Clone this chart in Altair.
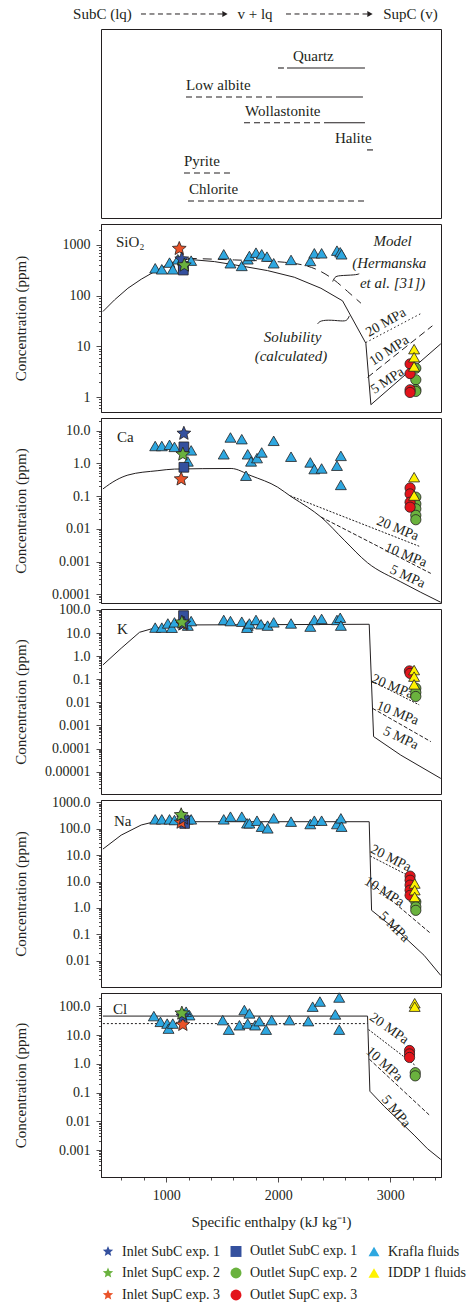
import math
import altair as alt
import pandas as pd

FONT = "Liberation Serif"
INK = "#231f20"
E_DOMAIN = [418, 3454]
PANEL_W = 340
YTITLE = "Concentration (ppm)"

# ---------------- top box (mineral stability) ----------------
HEADER_TEXT = ["SubC (lq)", "v + lq", "SupC (v)"]
HEADER_E = [431, 1793, 3181]
ARROW_START_E = [775, 2070]
ARROW_END_E = [1525, 2820]
HEADER_ROW = -1.03
ROW_DOMAIN = [-0.466, 6.639]

MINERALS = ["Quartz", "Low albite", "Wollastonite", "Halite", "Pyrite", "Chlorite"]
MINERAL_ROW = [1.0, 2.09, 3.06, 4.08, 4.95, 6.0]
MINERAL_LABEL_E = [2132, 1177, 1704, 2507, 1159, 1204]
METASTABLE_FROM = [1998, 1177, 1695, None, 1159, 1195]
METASTABLE_TO = [2070, 1998, 2454, None, 1605, 2802]
STABLE_FROM = [2079, 1998, 2454, 2793, None, None]
STABLE_TO = [2775, 2757, 2775, 2847, None, None]

# ---------------- legend / samples ----------------
STAR = ("M0,-1L0.265,-0.364L0.951,-0.309L0.428,0.139L0.588,0.809L0,0.45"
        "L-0.588,0.809L-0.428,0.139L-0.951,-0.309L-0.265,-0.364Z")
SAMPLES = ["Inlet SubC exp. 1", "Outlet SubC exp. 1", "Krafla fluids",
           "Inlet SupC exp. 2", "Outlet SupC exp. 2", "IDDP 1 fluids",
           "Inlet SupC exp. 3", "Outlet SupC exp. 3"]
SAMPLE_FILL = ["#34509e", "#34509e", "#2ea7e0", "#6ab23e", "#6ab23e",
               "#fff200", "#ea5329", "#e3141b"]
SAMPLE_SHAPE = [STAR, "square", "triangle-up", STAR, "circle",
                "triangle-up", STAR, "circle"]
SAMPLE_SIZE = [210, 95, 120, 210, 105, 120, 210, 105]
DRAW_ORDER = ["Krafla fluids", "Outlet SubC exp. 1", "Inlet SupC exp. 3",
              "Inlet SubC exp. 1", "Inlet SupC exp. 2", "Outlet SupC exp. 2",
              "Outlet SupC exp. 3", "IDDP 1 fluids"]

MPA_TEXT = ["20 MPa", "10 MPa", "5 MPa"]

# ---------------- SiO2 ----------------
SIO2_DOMAIN = [0.506, 2594]
SIO2_TICKS = [1, 10, 100, 1000]
SIO2_TICK_LABELS = ["1", "10", "100", "1000"]
SIO2_SOL_E = [435, 539, 658, 777, 896, 1045, 1193, 1431, 1669, 1906, 2144, 2382, 2575, 2783, 2828, 3452]
SIO2_SOL_C = [48.6, 82.6, 140, 211, 298, 449, 522, 470, 386, 312, 231, 140, 79, 11.5, 0.705, 11.2]
SIO2_MODEL_E = [1193, 1609, 2055, 2352, 2500, 2620, 2739]
SIO2_MODEL_C = [545, 507, 456, 322, 204, 121, 71]
SIO2_20_E = [2783, 3280]
SIO2_20_C = [11.9, 45]
SIO2_10_E = [2798, 3377]
SIO2_10_C = [2.44, 25.4]
SIO2_MPA_E = [2962, 2991, 2976]
SIO2_MPA_C = [29.5, 8.2, 2.1]
SIO2_MPA_ANGLE = [330, 327, 326]
SIO2_NOTE_TEXT = ["Model", "(Hermanska", "et al. [31])", "Solubility", "(calculated)"]
SIO2_NOTE_E = [3022, 2992, 3022, 2129, 2114]
SIO2_NOTE_C = [1200, 448, 180, 15.6, 6.3]
SIO2_LEAD1_E = [2487, 2505, 2540, 2690, 2724]
SIO2_LEAD1_C = [190, 235, 250, 255, 270]
SIO2_LEAD2_E = [2352, 2376, 2471, 2590, 2620, 2635]
SIO2_LEAD2_C = [27.8, 32.3, 33.3, 30.9, 33.3, 39.9]
SIO2_NAME_E, SIO2_NAME_C = [552], [1161]
SIO2_KRAFLA_E = [902, 961, 1030, 1059, 1104, 1223, 1514, 1574, 1675, 1728, 1743, 1802, 1853, 1900, 1960, 2115, 2287, 2323, 2388, 2525, 2554, 2566]
SIO2_KRAFLA_C = [347, 331, 449, 331, 522, 491, 655, 436, 386, 522, 607, 706, 655, 589, 436, 507, 484, 685, 685, 773, 717, 655]
SIO2_OUT1_E, SIO2_OUT1_C = [1153, 1153], [380, 320]
SIO2_IN1_E, SIO2_IN1_C = [1139], [522]
SIO2_IN2_E, SIO2_IN2_C = [1162], [398]
SIO2_IN3_E, SIO2_IN3_C = [1117], [845]
SIO2_OUT2_E, SIO2_OUT2_C = [3229, 3229, 3229, 3229], [3.7, 2.19, 1.39, 1.29]
SIO2_OUT3_E, SIO2_OUT3_C = [3178, 3178, 3178, 3178], [4.5, 2.9, 1.39, 1.23]
SIO2_IDDP_E, SIO2_IDDP_C = [3214, 3214, 3214], [8.8, 6.1, 4.0]

# ---------------- Ca ----------------
CA_DOMAIN = [5.42e-5, 24.4]
CA_TICKS = [10, 1, 0.1, 0.01, 0.001, 0.0001]
CA_TICK_LABELS = ["10.0", "1.0", "0.1", "0.01", "0.001", "0.0001"]
CA_SOL_E = [435, 554, 658, 926, 1074, 1580, 1758, 1996, 2115, 2263, 2382, 2590, 2798, 3095, 3452]
CA_SOL_C = [0.166, 0.31, 0.44, 0.6, 0.67, 0.70, 0.42, 0.187, 0.097, 0.046, 0.023, 0.0045, 0.00092, 0.00024, 5.7e-5]
CA_20_E, CA_20_C = [2109, 3259], [0.102, 0.00294]
CA_10_E, CA_10_C = [2382, 3363], [0.023, 0.000435]
CA_MPA_E = [3066, 3140, 3155]
CA_MPA_C = [0.0101, 0.00157, 0.000344]
CA_MPA_ANGLE = [22, 22, 25]
CA_NAME_E, CA_NAME_C = [561], [6.56]
CA_KRAFLA_E = [902, 961, 1030, 1074, 1193, 1223, 1514, 1574, 1675, 1713, 1728, 1758, 1811, 1853, 1960, 2115, 2287, 2323, 2388, 2525, 2560, 2560]
CA_KRAFLA_C = [3.4, 3.4, 3.7, 3.2, 1.15, 2.5, 1.9, 6.2, 5.5, 0.42, 1.9, 1.15, 1.45, 2.16, 4.9, 1.6, 1.07, 0.67, 0.70, 0.85, 1.7, 0.22]
CA_OUT1_E, CA_OUT1_C = [1158, 1158], [3.2, 0.76]
CA_IN1_E, CA_IN1_C = [1158], [8.2]
CA_IN2_E, CA_IN2_C = [1149], [1.9]
CA_IN3_E, CA_IN3_C = [1134], [0.33]
CA_OUT2_E, CA_OUT2_C = [3229] * 5, [0.093, 0.058, 0.041, 0.026, 0.019]
CA_OUT3_E, CA_OUT3_C = [3178] * 4, [0.178, 0.117, 0.065, 0.046]
CA_IDDP_E, CA_IDDP_C = [3214, 3214], [0.38, 0.104]

# ---------------- K ----------------
K_DOMAIN = [1.08e-6, 110]
K_TICKS = [100, 10, 1, 0.1, 0.01, 0.001, 0.0001, 0.00001]
K_TICK_LABELS = ["100.0", "10.0", "1.0", "0.1", "0.01", "0.001", "0.0001", "0.00001"]
K_SOL_E = [435, 598, 762, 866, 1134, 2813, 2852, 3095, 3452]
K_SOL_C = [0.416, 2.19, 10.8, 15.1, 22.4, 24.0, 3.3e-4, 5.2e-5, 5.1e-6]
K_20_E, K_20_C = [2834, 3259], [0.085, 0.0078]
K_10_E, K_10_C = [2843, 3363], [0.0055, 0.0002]
K_MPA_E = [3021, 3066, 3095]
K_MPA_C = [0.048, 0.0034, 0.00028]
K_MPA_ANGLE = [22, 22, 25]
K_NAME_E, K_NAME_C = [561], [15]
K_KRAFLA_E = [902, 961, 1015, 1051, 1074, 1193, 1223, 1514, 1574, 1675, 1728, 1722, 1743, 1802, 1847, 1906, 1960, 2115, 2287, 2323, 2388, 2525, 2554, 2560]
K_KRAFLA_C = [17.2, 17.2, 26, 17, 29, 21, 33, 37, 33, 31, 21, 17, 26, 37, 24, 21, 29, 26, 19, 37, 41, 37, 46, 21]
K_OUT1_E, K_OUT1_C = [1155], [57]
K_IN1_E, K_IN1_C = [1158], [26]
K_IN2_E, K_IN2_C = [1140], [29]
K_IN3_E, K_IN3_C = [1149], [24]
K_OUT2_E, K_OUT2_C = [3229] * 3, [0.041, 0.027, 0.018]
K_OUT3_E, K_OUT3_C = [3172, 3178], [0.23, 0.18]
K_IDDP_E, K_IDDP_C = [3214] * 3, [0.25, 0.13, 0.06]

# ---------------- Na ----------------
NA_DOMAIN = [1.01e-4, 1222]
NA_TICKS = [1000, 100, 10, 1, 0.1, 0.01, 0.001]
NA_TICK_LABELS = ["1000.0", "100.0", "10.0", "10.0", "1.0", "0.1", "0.01"]
NA_SOL_E = [435, 598, 777, 896, 2813, 2834, 3095, 3303, 3452]
NA_SOL_C = [16.9, 57, 138, 184, 184, 0.081, 0.0106, 0.0016, 0.000277]
NA_20_E, NA_20_C = [2822, 3214], [9.2, 1.3]
NA_10_E, NA_10_C = [2834, 3363], [0.84, 0.0107]
NA_MPA_E = [3006, 2947, 3036]
NA_MPA_C = [7.5, 0.405, 0.019]
NA_MPA_ANGLE = [27, 32, 45]
NA_NAME_E, NA_NAME_C = [534], [201]
NA_KRAFLA_E = [902, 961, 1030, 1074, 1193, 1223, 1514, 1574, 1675, 1722, 1743, 1811, 1853, 1906, 1960, 2115, 2287, 2323, 2388, 2525, 2560, 2566]
NA_KRAFLA_C = [226, 226, 226, 213, 226, 226, 226, 286, 286, 160, 160, 201, 119, 103, 247, 185, 150, 201, 201, 150, 247, 119]
NA_OUT1_E, NA_OUT1_C = [1165], [158]
NA_IN1_E, NA_IN1_C = [1155], [247]
NA_IN2_E, NA_IN2_C = [1134], [330]
NA_IN3_E, NA_IN3_C = [1134], [173]
NA_OUT2_E, NA_OUT2_C = [3229] * 3, [0.17, 0.11, 0.081]
NA_OUT3_E, NA_OUT3_C = [3178] * 5, [1.6, 1.12, 0.73, 0.47, 0.30]
NA_IDDP_E, NA_IDDP_C = [3219] * 3, [0.84, 0.47, 0.26]

# ---------------- Cl ----------------
CL_DOMAIN = [1.15e-4, 290]
CL_TICKS = [100, 10, 1, 0.1, 0.01, 0.001]
CL_TICK_LABELS = ["100.0", "10.0", "1.0", "0.1", "0.01", "0.001"]
CL_SOL_E = [435, 2798, 2819, 2947, 3214, 3333, 3452]
CL_SOL_C = [45.6, 45.6, 0.111, 0.033, 0.0033, 0.00111, 0.00047]
CL_DOT_E, CL_DOT_C = [435, 2798], [25, 25]
CL_20_E, CL_20_C = [2807, 3229], [15.5, 0.85]
CL_10_E, CL_10_C = [2813, 3348], [1.46, 0.0167]
CL_MPA_E = [2991, 2947, 3051]
CL_MPA_C = [16.8, 0.97, 0.022]
CL_MPA_ANGLE = [35, 42, 50]
CL_NAME_E, CL_NAME_C = [525], [80.5]
CL_KRAFLA_E = [890, 949, 1009, 1021, 1059, 1208, 1178, 1505, 1559, 1654, 1698, 1728, 1743, 1794, 1832, 1892, 1942, 2100, 2269, 2308, 2373, 2510, 2545, 2545]
CL_KRAFLA_C = [45.6, 28.8, 25, 16.7, 25, 49, 65, 33, 15.4, 21.9, 74, 25, 56.6, 21.9, 30.4, 15.4, 33, 33, 30.4, 97, 146, 52, 202, 15.4]
CL_IN1_E, CL_IN1_C = [1149], [45]
CL_IN2_E, CL_IN2_C = [1140], [57]
CL_IN3_E, CL_IN3_C = [1149], [23]
CL_OUT2_E, CL_OUT2_C = [3224, 3224], [0.49, 0.38]
CL_OUT3_E, CL_OUT3_C = [3173] * 3, [2.9, 2.2, 1.66]
CL_IDDP_E, CL_IDDP_C = [3219, 3219], [128, 97]

# ======================================================================
x_scale = alt.Scale(domain=E_DOMAIN, nice=False, zero=False)


def xy_df(E, C, **extra):
    d = pd.DataFrame({"E": E, "C": C})
    d["i"] = range(len(d))
    for k, v in extra.items():
        d[k] = v
    return d


def log_axis(lo, hi, ticks, labels):
    vals = []
    for k in range(math.floor(math.log10(lo)), math.ceil(math.log10(hi)) + 1):
        for m in range(1, 10):
            v = float(f"{m}e{k}")
            if lo <= v <= hi:
                vals.append(v)
    expr = "''"
    for v, lab in zip(ticks, labels):
        expr = f"abs(datum.value - {float(v)!r}) < {float(v) * 1e-6!r} ? '{lab}' : ({expr})"
    major = "abs(log(datum.value)/LN10 - round(log(datum.value)/LN10)) < 0.01"
    return alt.Axis(values=vals, labelExpr=expr,
                    tickSize={"condition": {"test": major, "value": 5}, "value": 2.5},
                    labelFont=FONT, labelFontSize=14, labelColor=INK, labelPadding=6,
                    labelOverlap=False, labelFlush=False, labelBaseline="middle",
                    titleFont=FONT, titleFontSize=15, titleFontWeight="normal",
                    titleColor=INK, titlePadding=13, minExtent=60, maxExtent=60,
                    domainColor=INK, tickColor=INK, tickWidth=0.8, domainWidth=1, grid=False)


X_AXIS = alt.Axis(values=list(range(600, 3401, 200)),
                  labelExpr="datum.value % 1000 == 0 ? format(datum.value, 'd') : ''",
                  tickSize={"condition": {"test": "datum.value % 1000 == 0", "value": 5}, "value": 3},
                  labelFont=FONT, labelFontSize=14, labelColor=INK, labelPadding=6,
                  labelOverlap=False, labelFlush=False,
                  titleFont=FONT, titleFontSize=15, titleFontWeight="normal",
                  titleColor=INK, titlePadding=12,
                  domainColor=INK, tickColor=INK, tickWidth=0.8, grid=False)

LEGEND = alt.Legend(title=None, orient="bottom", direction="horizontal", columns=3,
                    labelFont=FONT, labelFontSize=14, labelColor=INK, labelLimit=0,
                    labelOffset=7, symbolSize=120, symbolStrokeColor=INK,
                    symbolStrokeWidth=0.8, rowPadding=6, columnPadding=8, offset=14)


def panel(domain, h, ticks, labels, curves, mpa, name, name_pos, points,
          notes=None, bottom=False):
    lo, hi = domain
    x = alt.X("E:Q", scale=x_scale,
              axis=X_AXIS if bottom else None,
              title="Specific enthalpy (kJ kg\u207b\u00b9)" if bottom else None)
    y = alt.Y("C:Q", scale=alt.Scale(type="log", domain=[lo, hi], nice=False),
              axis=log_axis(lo, hi, ticks, labels), title=YTITLE)
    layers = []
    for E, C, dash, interp in curves:
        kw = dict(color=INK, strokeWidth=1, interpolate=interp)
        if dash:
            kw["strokeDash"] = dash
        layers.append(alt.Chart(xy_df(E, C)).mark_line(**kw).encode(
            x=x, y=y, order="i:Q"))
    mE, mC, mA = mpa
    layers.append(alt.Chart(xy_df(mE, mC, t=MPA_TEXT, a=mA)).mark_text(
        font=FONT, fontSize=14, color=INK, baseline="middle", align="center").encode(
        x=x, y=y, text="t:N", angle=alt.Angle("a:Q", scale=None)))
    if notes is not None:
        nT, nE, nC = notes
        layers.append(alt.Chart(xy_df(nE, nC, t=nT)).mark_text(
            font=FONT, fontSize=15, fontStyle="italic", color=INK,
            baseline="middle", align="center").encode(x=x, y=y, text="t:N"))
    layers.append(alt.Chart(xy_df(name_pos[0], name_pos[1], t=[name])).mark_text(
        font=FONT, fontSize=15, color=INK, baseline="middle", align="left").encode(
        x=x, y=y, text="t:N"))
    rows = []
    for s in DRAW_ORDER:
        if s in points:
            E, C = points[s]
            for e, c in zip(E, C):
                rows.append({"E": e, "C": c, "sample": s,
                             "sz": SAMPLE_SIZE[SAMPLES.index(s)]})
    pdf = pd.DataFrame(rows)
    layers.append(alt.Chart(pdf).mark_point(filled=True, opacity=1, stroke=INK,
                                            strokeWidth=0.8).encode(
        x=x, y=y,
        fill=alt.Fill("sample:N", scale=alt.Scale(domain=SAMPLES, range=SAMPLE_FILL),
                      legend=LEGEND),
        shape=alt.Shape("sample:N", scale=alt.Scale(domain=SAMPLES, range=SAMPLE_SHAPE),
                        legend=LEGEND),
        size=alt.Size("sz:Q", scale=None, legend=None)))
    return alt.layer(*layers).properties(width=PANEL_W, height=h)


# ---------------- top box chart ----------------
tx = alt.X("E:Q", scale=x_scale, axis=None)
ty = alt.Y("r:Q", scale=alt.Scale(domain=ROW_DOMAIN, reverse=True, nice=False, zero=False),
           axis=None)

hdr = pd.DataFrame({"E": HEADER_E, "r": [HEADER_ROW] * 3, "t": HEADER_TEXT})
arr = pd.DataFrame({"E": ARROW_START_E, "E2": ARROW_END_E, "r": [HEADER_ROW] * 2})
arr_head = pd.DataFrame({"E": ARROW_END_E, "r": [HEADER_ROW] * 2})
mlab = pd.DataFrame({"E": MINERAL_LABEL_E, "r": MINERAL_ROW, "t": MINERALS})
meta = pd.DataFrame([{"E": a, "E2": b, "r": r} for a, b, r in
                     zip(METASTABLE_FROM, METASTABLE_TO, MINERAL_ROW) if a is not None])
stab = pd.DataFrame([{"E": a, "E2": b, "r": r} for a, b, r in
                     zip(STABLE_FROM, STABLE_TO, MINERAL_ROW) if a is not None])

top = alt.layer(
    alt.Chart(hdr).mark_text(font=FONT, fontSize=15, color=INK, baseline="middle").encode(
        x=tx, y=ty, text="t:N"),
    alt.Chart(arr).mark_rule(color=INK, strokeWidth=1, strokeDash=[5, 3.5]).encode(
        x=tx, x2="E2:Q", y=ty),
    alt.Chart(arr_head).mark_point(shape="triangle-right", filled=True, color=INK,
                                   size=38, opacity=1).encode(x=tx, y=ty),
    alt.Chart(mlab).mark_text(font=FONT, fontSize=15, color=INK, align="left",
                              baseline="alphabetic", dy=-7).encode(x=tx, y=ty, text="t:N"),
    alt.Chart(meta).mark_rule(color=INK, strokeWidth=1.1, strokeDash=[6, 4]).encode(
        x=tx, x2="E2:Q", y=ty),
    alt.Chart(stab).mark_rule(color=INK, strokeWidth=1.1).encode(x=tx, x2="E2:Q", y=ty),
).properties(width=PANEL_W, height=189)

sio2 = panel(SIO2_DOMAIN, 188, SIO2_TICKS, SIO2_TICK_LABELS,
             [(SIO2_SOL_E, SIO2_SOL_C, None, "linear"),
              (SIO2_MODEL_E, SIO2_MODEL_C, [9, 6], "monotone"),
              (SIO2_20_E, SIO2_20_C, [1.5, 2.5], "linear"),
              (SIO2_10_E, SIO2_10_C, [7, 4], "linear"),
              (SIO2_LEAD1_E, SIO2_LEAD1_C, None, "basis"),
              (SIO2_LEAD2_E, SIO2_LEAD2_C, None, "basis")],
             (SIO2_MPA_E, SIO2_MPA_C, SIO2_MPA_ANGLE), "SiO\u2082", (SIO2_NAME_E, SIO2_NAME_C),
             {"Krafla fluids": (SIO2_KRAFLA_E, SIO2_KRAFLA_C),
              "Outlet SubC exp. 1": (SIO2_OUT1_E, SIO2_OUT1_C),
              "Inlet SubC exp. 1": (SIO2_IN1_E, SIO2_IN1_C),
              "Inlet SupC exp. 2": (SIO2_IN2_E, SIO2_IN2_C),
              "Inlet SupC exp. 3": (SIO2_IN3_E, SIO2_IN3_C),
              "Outlet SupC exp. 2": (SIO2_OUT2_E, SIO2_OUT2_C),
              "Outlet SupC exp. 3": (SIO2_OUT3_E, SIO2_OUT3_C),
              "IDDP 1 fluids": (SIO2_IDDP_E, SIO2_IDDP_C)},
             notes=(SIO2_NOTE_TEXT, SIO2_NOTE_E, SIO2_NOTE_C))

ca = panel(CA_DOMAIN, 185, CA_TICKS, CA_TICK_LABELS,
           [(CA_SOL_E, CA_SOL_C, None, "monotone"),
            (CA_20_E, CA_20_C, [2, 1.5], "linear"),
            (CA_10_E, CA_10_C, [4, 2], "linear")],
           (CA_MPA_E, CA_MPA_C, CA_MPA_ANGLE), "Ca", (CA_NAME_E, CA_NAME_C),
           {"Krafla fluids": (CA_KRAFLA_E, CA_KRAFLA_C),
            "Outlet SubC exp. 1": (CA_OUT1_E, CA_OUT1_C),
            "Inlet SubC exp. 1": (CA_IN1_E, CA_IN1_C),
            "Inlet SupC exp. 2": (CA_IN2_E, CA_IN2_C),
            "Inlet SupC exp. 3": (CA_IN3_E, CA_IN3_C),
            "Outlet SupC exp. 2": (CA_OUT2_E, CA_OUT2_C),
            "Outlet SupC exp. 3": (CA_OUT3_E, CA_OUT3_C),
            "IDDP 1 fluids": (CA_IDDP_E, CA_IDDP_C)})

k = panel(K_DOMAIN, 185, K_TICKS, K_TICK_LABELS,
          [(K_SOL_E, K_SOL_C, None, "linear"),
           (K_20_E, K_20_C, [2, 1.5], "linear"),
           (K_10_E, K_10_C, [4, 2], "linear")],
          (K_MPA_E, K_MPA_C, K_MPA_ANGLE), "K", (K_NAME_E, K_NAME_C),
          {"Krafla fluids": (K_KRAFLA_E, K_KRAFLA_C),
           "Outlet SubC exp. 1": (K_OUT1_E, K_OUT1_C),
           "Inlet SubC exp. 1": (K_IN1_E, K_IN1_C),
           "Inlet SupC exp. 2": (K_IN2_E, K_IN2_C),
           "Inlet SupC exp. 3": (K_IN3_E, K_IN3_C),
           "Outlet SupC exp. 2": (K_OUT2_E, K_OUT2_C),
           "Outlet SupC exp. 3": (K_OUT3_E, K_OUT3_C),
           "IDDP 1 fluids": (K_IDDP_E, K_IDDP_C)})

na = panel(NA_DOMAIN, 187, NA_TICKS, NA_TICK_LABELS,
           [(NA_SOL_E, NA_SOL_C, None, "linear"),
            (NA_20_E, NA_20_C, [2, 1.5], "linear"),
            (NA_10_E, NA_10_C, [4, 2], "linear")],
           (NA_MPA_E, NA_MPA_C, NA_MPA_ANGLE), "Na", (NA_NAME_E, NA_NAME_C),
           {"Krafla fluids": (NA_KRAFLA_E, NA_KRAFLA_C),
            "Outlet SubC exp. 1": (NA_OUT1_E, NA_OUT1_C),
            "Inlet SubC exp. 1": (NA_IN1_E, NA_IN1_C),
            "Inlet SupC exp. 2": (NA_IN2_E, NA_IN2_C),
            "Inlet SupC exp. 3": (NA_IN3_E, NA_IN3_C),
            "Outlet SupC exp. 2": (NA_OUT2_E, NA_OUT2_C),
            "Outlet SupC exp. 3": (NA_OUT3_E, NA_OUT3_C),
            "IDDP 1 fluids": (NA_IDDP_E, NA_IDDP_C)})

cl = panel(CL_DOMAIN, 184, CL_TICKS, CL_TICK_LABELS,
           [(CL_SOL_E, CL_SOL_C, None, "linear"),
            (CL_DOT_E, CL_DOT_C, [2, 2], "linear"),
            (CL_20_E, CL_20_C, [2, 1.5], "linear"),
            (CL_10_E, CL_10_C, [4, 2], "linear")],
           (CL_MPA_E, CL_MPA_C, CL_MPA_ANGLE), "Cl", (CL_NAME_E, CL_NAME_C),
           {"Krafla fluids": (CL_KRAFLA_E, CL_KRAFLA_C),
            "Inlet SubC exp. 1": (CL_IN1_E, CL_IN1_C),
            "Inlet SupC exp. 2": (CL_IN2_E, CL_IN2_C),
            "Inlet SupC exp. 3": (CL_IN3_E, CL_IN3_C),
            "Outlet SupC exp. 2": (CL_OUT2_E, CL_OUT2_C),
            "Outlet SupC exp. 3": (CL_OUT3_E, CL_OUT3_C),
            "IDDP 1 fluids": (CL_IDDP_E, CL_IDDP_C)},
           bottom=True)

chart = alt.vconcat(top, sio2, ca, k, na, cl, spacing=6, bounds="flush").configure_view(
    stroke=INK, strokeWidth=1
).properties(
    padding={"left": 12, "top": 6, "right": 0, "bottom": 0},
    background="white",
)

chart.save("out.html", embed_options={"renderer": "svg", "actions": False})
